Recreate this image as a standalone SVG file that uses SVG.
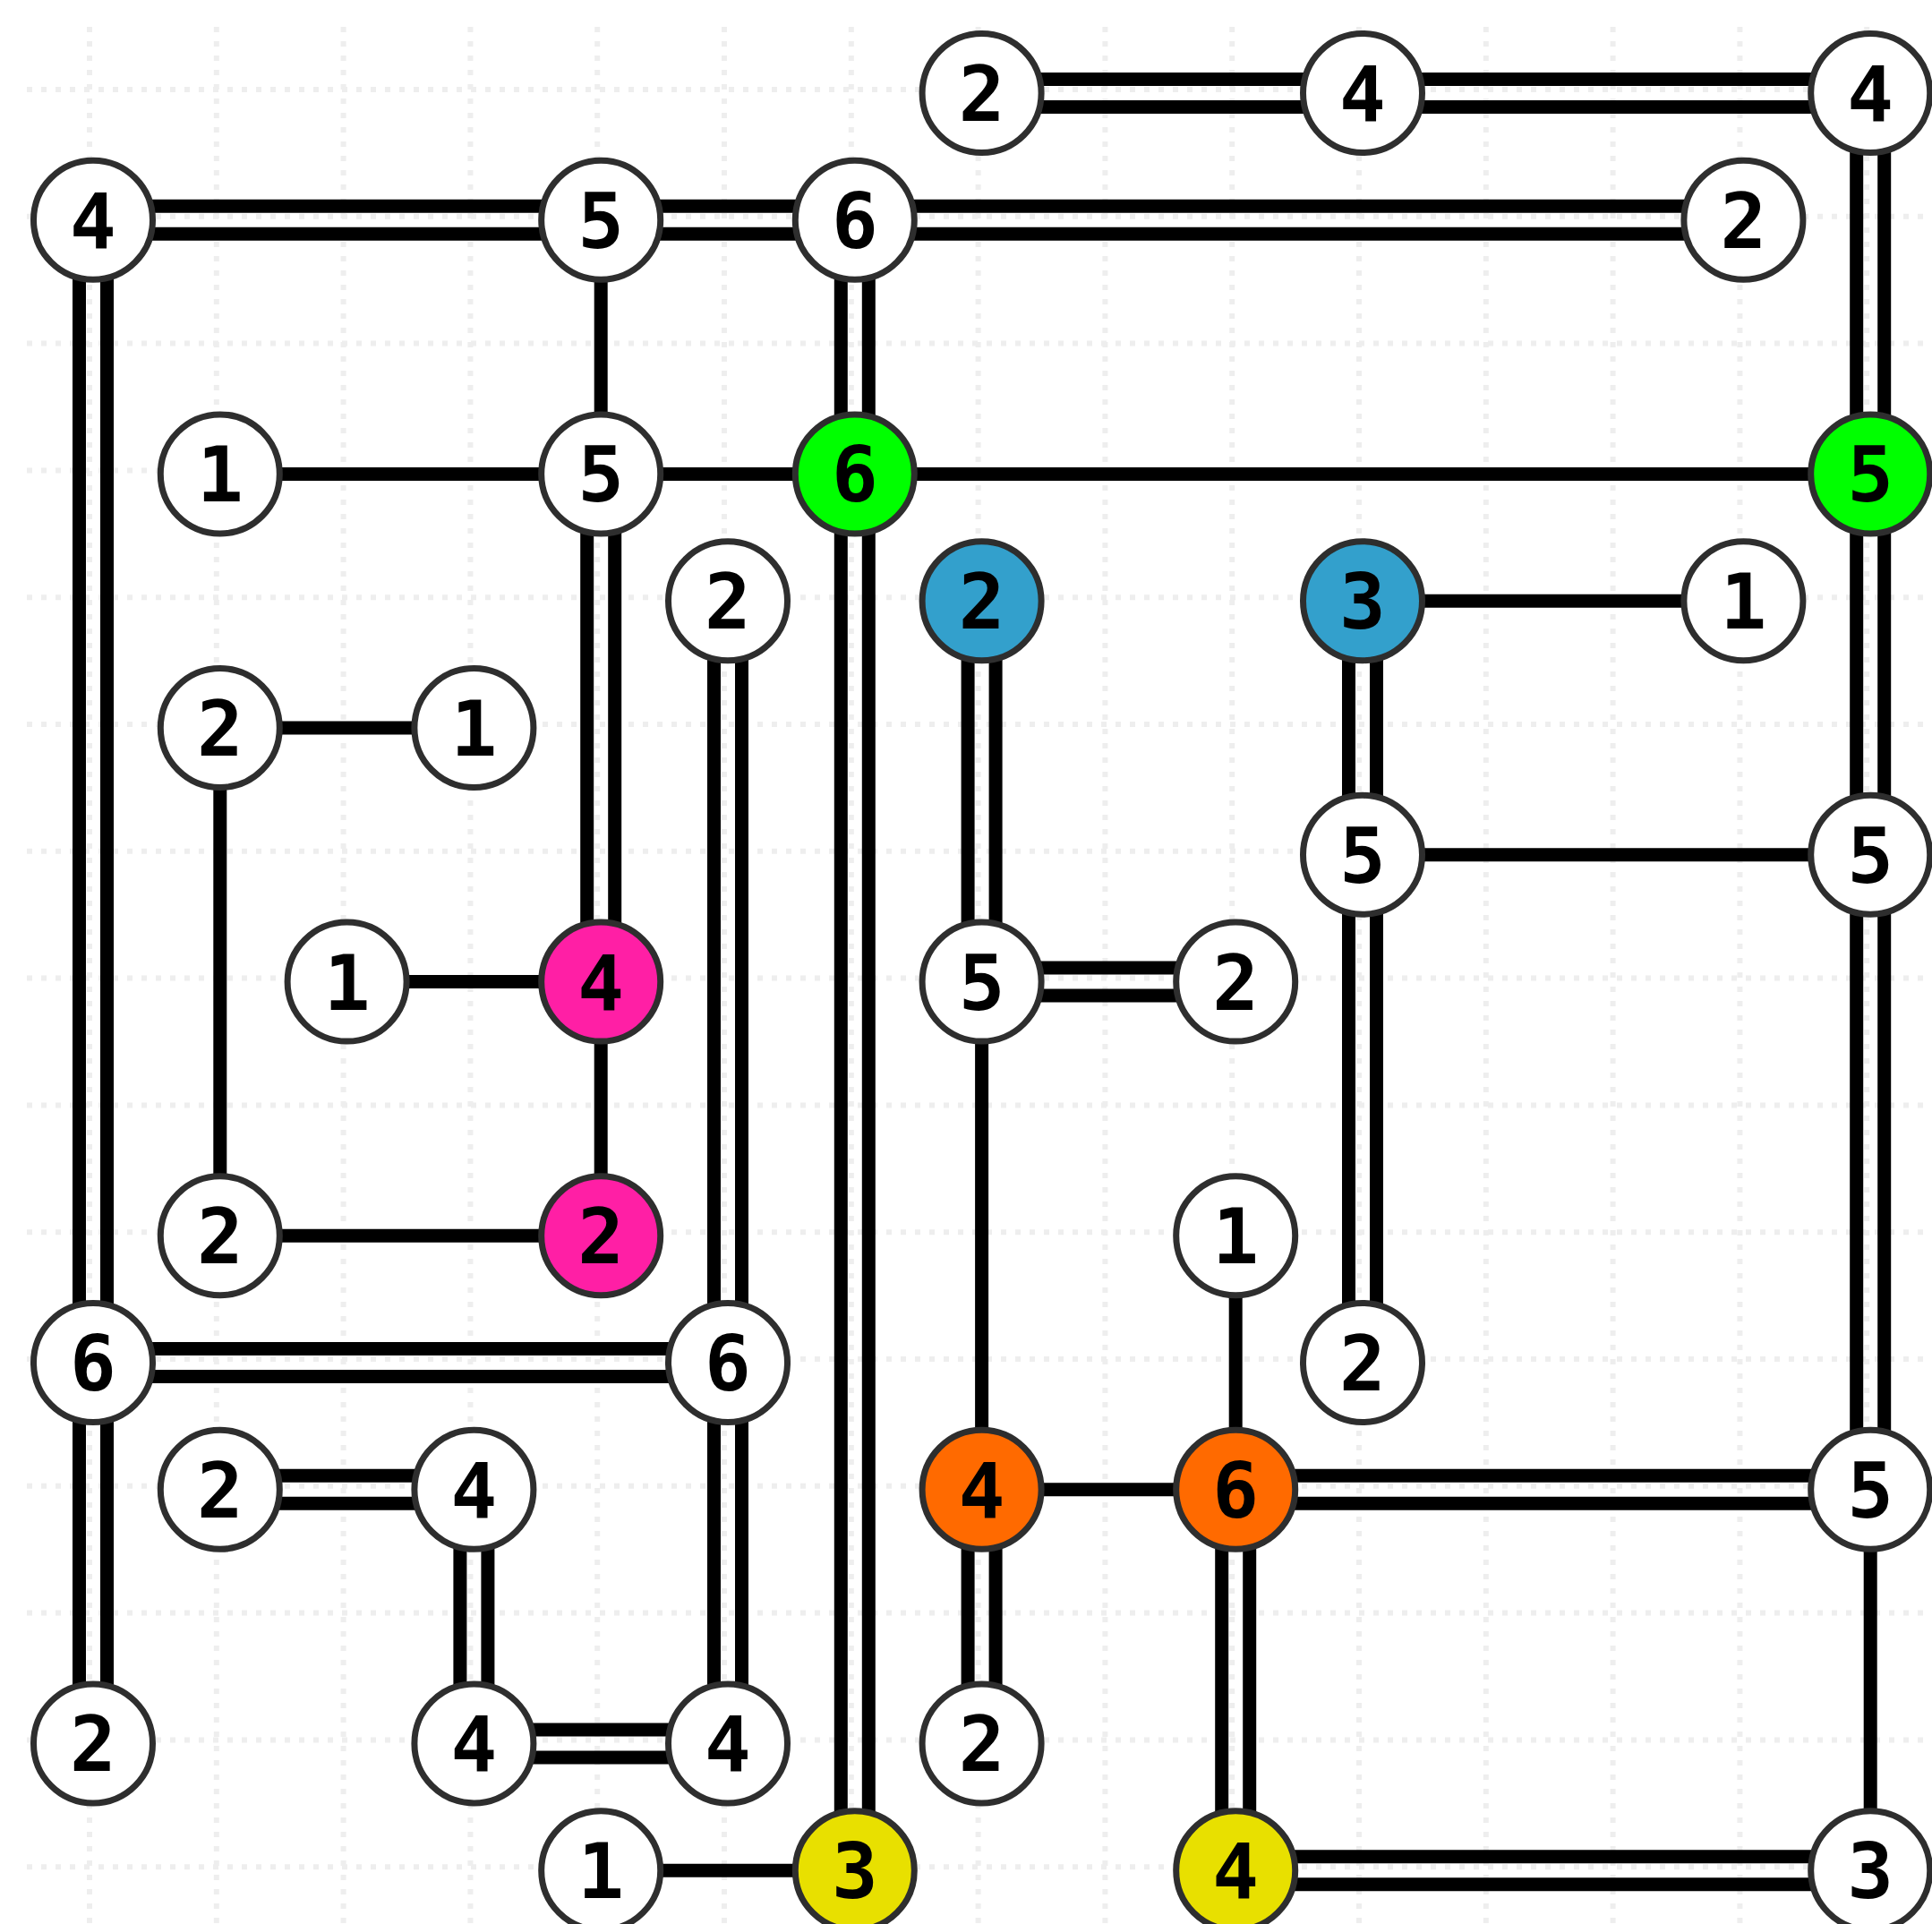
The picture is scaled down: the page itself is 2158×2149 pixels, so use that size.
<svg xmlns="http://www.w3.org/2000/svg" width="2158" height="2149" viewBox="0 0 2158 2149">
<style>
.grid{stroke:#eeeeee;stroke-width:6;stroke-dasharray:6 10;fill:none}
.b{stroke:#000;stroke-width:15;fill:none}
.n circle{fill:#fff;stroke:#2e2e2e;stroke-width:7}
.n text{font-family:"DejaVu Sans Mono","Liberation Mono",monospace;font-weight:bold;font-size:86px;text-anchor:middle;fill:#000}
.green circle{fill:#00ff00}
.blue circle{fill:#33a0cc}
.pink circle{fill:#ff1fa5}
.orange circle{fill:#ff6a00}
.yellow circle{fill:#e8e000}
</style>
<rect width="2158" height="2149" fill="#fff"/>
<g id="grid">
<path class="grid" d="M30 100H2158M30 241.8H2158M30 383.6H2158M30 525.4H2158M30 667.2H2158M30 809H2158M30 950.8H2158M30 1092.6H2158M30 1234.4H2158M30 1376.2H2158M30 1518H2158M30 1659.8H2158M30 1801.6H2158M30 1943.4H2158M30 2085.2H2158"/>
<path class="grid" d="M100 30V2149M241.8 30V2149M383.6 30V2149M525.4 30V2149M667.2 30V2149M809 30V2149M950.8 30V2149M1092.6 30V2149M1234.4 30V2149M1376.2 30V2149M1518 30V2149M1659.8 30V2149M1801.6 30V2149M1943.4 30V2149M2085.2 30V2149"/>
</g>
<g id="connectors">
<!-- horizontal doubles -->
<path class="b" d="M1096.6 88.5H1522M1096.6 119.5H1522"/>
<path class="b" d="M1522 88.5H2089.2M1522 119.5H2089.2"/>
<path class="b" d="M104 230.3H671.2M104 261.3H671.2"/>
<path class="b" d="M671.2 230.3H954.8M671.2 261.3H954.8"/>
<path class="b" d="M954.8 230.3H1947.4M954.8 261.3H1947.4"/>
<path class="b" d="M1096.6 1081.1H1380.2M1096.6 1112.1H1380.2"/>
<path class="b" d="M104 1506.5H813M104 1537.5H813"/>
<path class="b" d="M245.8 1648.3H529.4M245.8 1679.3H529.4"/>
<path class="b" d="M1380.2 1648.3H2089.2M1380.2 1679.3H2089.2"/>
<path class="b" d="M529.4 1931.9H813M529.4 1962.9H813"/>
<path class="b" d="M1380.2 2073.7H2089.2M1380.2 2104.7H2089.2"/>
<!-- vertical doubles -->
<path class="b" d="M2073.7 104V529.4M2104.7 104V529.4"/>
<path class="b" d="M88.5 245.8V1522M119.5 245.8V1522"/>
<path class="b" d="M939.3 245.8V529.4M970.3 245.8V529.4"/>
<path class="b" d="M655.7 529.4V1096.6M686.7 529.4V1096.6"/>
<path class="b" d="M939.3 529.4V2089.2M970.3 529.4V2089.2"/>
<path class="b" d="M2073.7 529.4V954.8M2104.7 529.4V954.8"/>
<path class="b" d="M797.5 671.2V1522M828.5 671.2V1522"/>
<path class="b" d="M1081.1 671.2V1096.6M1112.1 671.2V1096.6"/>
<path class="b" d="M1506.5 671.2V954.8M1537.5 671.2V954.8"/>
<path class="b" d="M1506.5 954.8V1522M1537.5 954.8V1522"/>
<path class="b" d="M2073.7 954.8V1663.8M2104.7 954.8V1663.8"/>
<path class="b" d="M88.5 1522V1947.4M119.5 1522V1947.4"/>
<path class="b" d="M797.5 1522V1947.4M828.5 1522V1947.4"/>
<path class="b" d="M513.9 1663.8V1947.4M544.9 1663.8V1947.4"/>
<path class="b" d="M1081.1 1663.8V1947.4M1112.1 1663.8V1947.4"/>
<path class="b" d="M1364.7 1663.8V2089.2M1395.7 1663.8V2089.2"/>
<!-- singles -->
<path class="b" d="M671.2 245.8V529.4"/>
<path class="b" d="M245.8 529.4H671.2"/>
<path class="b" d="M671.2 529.4H954.8"/>
<path class="b" d="M954.8 529.4H2089.2"/>
<path class="b" d="M1522 671.2H1947.4"/>
<path class="b" d="M245.8 813H529.4"/>
<path class="b" d="M245.8 813V1380.2"/>
<path class="b" d="M1522 954.8H2089.2"/>
<path class="b" d="M387.6 1096.6H671.2"/>
<path class="b" d="M671.2 1096.6V1380.2"/>
<path class="b" d="M1096.6 1096.6V1663.8"/>
<path class="b" d="M245.8 1380.2H671.2"/>
<path class="b" d="M1380.2 1380.2V1663.8"/>
<path class="b" d="M1096.6 1663.8H1380.2"/>
<path class="b" d="M2089.2 1663.8V2089.2"/>
<path class="b" d="M671.2 2089.2H954.8"/>
</g>
<g id="nodes">
<g id="n-0-7" class="n"><circle cx="1096.6" cy="104" r="66.5"/><text x="1096.6" y="135">2</text></g>
<g id="n-0-10" class="n"><circle cx="1522" cy="104" r="66.5"/><text x="1522" y="135">4</text></g>
<g id="n-0-14" class="n"><circle cx="2089.2" cy="104" r="66.5"/><text x="2089.2" y="135">4</text></g>
<g id="n-1-0" class="n"><circle cx="104" cy="245.8" r="66.5"/><text x="104" y="276.8">4</text></g>
<g id="n-1-4" class="n"><circle cx="671.2" cy="245.8" r="66.5"/><text x="671.2" y="276.8">5</text></g>
<g id="n-1-6" class="n"><circle cx="954.8" cy="245.8" r="66.5"/><text x="954.8" y="276.8">6</text></g>
<g id="n-1-13" class="n"><circle cx="1947.4" cy="245.8" r="66.5"/><text x="1947.4" y="276.8">2</text></g>
<g id="n-3-1" class="n"><circle cx="245.8" cy="529.4" r="66.5"/><text x="245.8" y="560.4">1</text></g>
<g id="n-3-4" class="n"><circle cx="671.2" cy="529.4" r="66.5"/><text x="671.2" y="560.4">5</text></g>
<g id="n-3-6" class="n green"><circle cx="954.8" cy="529.4" r="66.5"/><text x="954.8" y="560.4">6</text></g>
<g id="n-3-14" class="n green"><circle cx="2089.2" cy="529.4" r="66.5"/><text x="2089.2" y="560.4">5</text></g>
<g id="n-4-5" class="n"><circle cx="813" cy="671.2" r="66.5"/><text x="813" y="702.2">2</text></g>
<g id="n-4-7" class="n blue"><circle cx="1096.6" cy="671.2" r="66.5"/><text x="1096.6" y="702.2">2</text></g>
<g id="n-4-10" class="n blue"><circle cx="1522" cy="671.2" r="66.5"/><text x="1522" y="702.2">3</text></g>
<g id="n-4-13" class="n"><circle cx="1947.4" cy="671.2" r="66.5"/><text x="1947.4" y="702.2">1</text></g>
<g id="n-5-1" class="n"><circle cx="245.8" cy="813" r="66.5"/><text x="245.8" y="844">2</text></g>
<g id="n-5-3" class="n"><circle cx="529.4" cy="813" r="66.5"/><text x="529.4" y="844">1</text></g>
<g id="n-6-10" class="n"><circle cx="1522" cy="954.8" r="66.5"/><text x="1522" y="985.8">5</text></g>
<g id="n-6-14" class="n"><circle cx="2089.2" cy="954.8" r="66.5"/><text x="2089.2" y="985.8">5</text></g>
<g id="n-7-2" class="n"><circle cx="387.6" cy="1096.6" r="66.5"/><text x="387.6" y="1127.6">1</text></g>
<g id="n-7-4" class="n pink"><circle cx="671.2" cy="1096.6" r="66.5"/><text x="671.2" y="1127.6">4</text></g>
<g id="n-7-7" class="n"><circle cx="1096.6" cy="1096.6" r="66.5"/><text x="1096.6" y="1127.6">5</text></g>
<g id="n-7-9" class="n"><circle cx="1380.2" cy="1096.6" r="66.5"/><text x="1380.2" y="1127.6">2</text></g>
<g id="n-9-1" class="n"><circle cx="245.8" cy="1380.2" r="66.5"/><text x="245.8" y="1411.2">2</text></g>
<g id="n-9-4" class="n pink"><circle cx="671.2" cy="1380.2" r="66.5"/><text x="671.2" y="1411.2">2</text></g>
<g id="n-9-9" class="n"><circle cx="1380.2" cy="1380.2" r="66.5"/><text x="1380.2" y="1411.2">1</text></g>
<g id="n-10-0" class="n"><circle cx="104" cy="1522" r="66.5"/><text x="104" y="1553">6</text></g>
<g id="n-10-5" class="n"><circle cx="813" cy="1522" r="66.5"/><text x="813" y="1553">6</text></g>
<g id="n-10-10" class="n"><circle cx="1522" cy="1522" r="66.5"/><text x="1522" y="1553">2</text></g>
<g id="n-11-1" class="n"><circle cx="245.8" cy="1663.8" r="66.5"/><text x="245.8" y="1694.8">2</text></g>
<g id="n-11-3" class="n"><circle cx="529.4" cy="1663.8" r="66.5"/><text x="529.4" y="1694.8">4</text></g>
<g id="n-11-7" class="n orange"><circle cx="1096.6" cy="1663.8" r="66.5"/><text x="1096.6" y="1694.8">4</text></g>
<g id="n-11-9" class="n orange"><circle cx="1380.2" cy="1663.8" r="66.5"/><text x="1380.2" y="1694.8">6</text></g>
<g id="n-11-14" class="n"><circle cx="2089.2" cy="1663.8" r="66.5"/><text x="2089.2" y="1694.8">5</text></g>
<g id="n-13-0" class="n"><circle cx="104" cy="1947.4" r="66.5"/><text x="104" y="1978.4">2</text></g>
<g id="n-13-3" class="n"><circle cx="529.4" cy="1947.4" r="66.5"/><text x="529.4" y="1978.4">4</text></g>
<g id="n-13-5" class="n"><circle cx="813" cy="1947.4" r="66.5"/><text x="813" y="1978.4">4</text></g>
<g id="n-13-7" class="n"><circle cx="1096.6" cy="1947.4" r="66.5"/><text x="1096.6" y="1978.4">2</text></g>
<g id="n-14-4" class="n"><circle cx="671.2" cy="2089.2" r="66.5"/><text x="671.2" y="2120.2">1</text></g>
<g id="n-14-6" class="n yellow"><circle cx="954.8" cy="2089.2" r="66.5"/><text x="954.8" y="2120.2">3</text></g>
<g id="n-14-9" class="n yellow"><circle cx="1380.2" cy="2089.2" r="66.5"/><text x="1380.2" y="2120.2">4</text></g>
<g id="n-14-14" class="n"><circle cx="2089.2" cy="2089.2" r="66.5"/><text x="2089.2" y="2120.2">3</text></g>
</g>
</svg>
